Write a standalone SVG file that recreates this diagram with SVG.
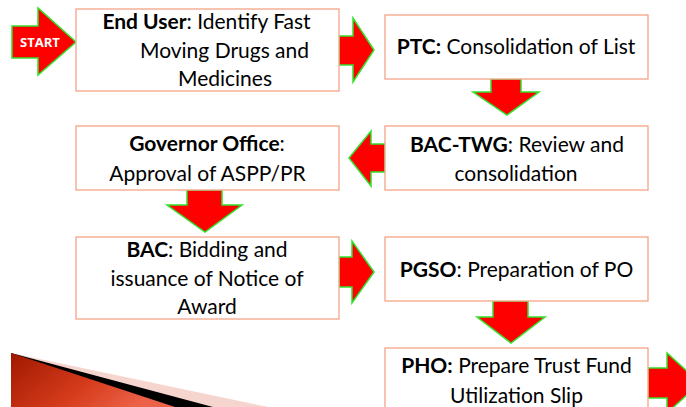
<svg xmlns="http://www.w3.org/2000/svg" width="686" height="407" viewBox="0 0 686 407">
<defs>
<linearGradient id="redg" x1="0" y1="0" x2="1" y2="0.4">
<stop offset="0" stop-color="#A01800"/>
<stop offset="0.6" stop-color="#D63C1C"/>
<stop offset="1" stop-color="#EC6248"/>
</linearGradient>
<style>
.box{fill:#FFFFFF;stroke:#F4A388;stroke-width:1.3}
.arr{fill:#FF0000;stroke:#33E02B;stroke-width:1.5;stroke-linejoin:miter}
.t{font-family:Lato,"Liberation Sans",sans-serif;font-size:21px;fill:#000;text-anchor:middle}
.b{font-weight:bold}
.st{font-family:"Open Sans","Liberation Sans",sans-serif;font-size:13px;font-weight:bold;fill:#FFF;text-anchor:middle}
</style>
</defs>
<g id="decor">
<polygon points="11,353 268,407 11,407" fill="#F6D5CE"/>
<polygon points="11,353 213,407 11,407" fill="#000"/>
<polygon points="11,353 175,407 11,407" fill="url(#redg)"/>
</g>
<g id="connectors">
<polygon class="arr" points="12,26 38,26 38,8 76,42 38,75 38,58 12,58"/>
<polygon class="arr" points="339,36 353,36 353,18 374,50 353,82 353,65 339,65"/>
<polygon class="arr" points="491,79 521,79 521,92 539,92 507,115 473,92 491,92"/>
<polygon class="arr" points="385,144 371,144 371,131 349,158 371,186 371,172 385,172"/>
<polygon class="arr" points="187,190 222,190 222,205 242,205 205,232 167,205 187,205"/>
<polygon class="arr" points="339,257 352,257 352,241 374,272 352,303 352,287 339,287"/>
<polygon class="arr" points="493,301 528,301 528,317 545,317 511,343 477,317 493,317"/>
<polygon class="arr" points="648,368 667,368 667,353 700,383 667,413 667,398 648,398"/>
<text class="st" x="40" y="47">START</text>
</g>
<g id="n1">
<rect class="box" x="76" y="9" width="263" height="82"/>
<text class="t" x="206.5" y="29"><tspan class="b">End User</tspan>: Identify Fast</text>
<text class="t" x="224.5" y="58">Moving Drugs and</text>
<text class="t" x="225" y="86">Medicines</text>
</g>
<g id="n2">
<rect class="box" x="385" y="15" width="263" height="64"/>
<text class="t" x="516" y="54"><tspan class="b">PTC:</tspan> Consolidation of List</text>
</g>
<g id="n3">
<rect class="box" x="385" y="126" width="263" height="64"/>
<text class="t" x="517" y="152"><tspan class="b">BAC-TWG</tspan>: Review and</text>
<text class="t" x="516" y="181">consolidation</text>
</g>
<g id="n4">
<rect class="box" x="76" y="126" width="263" height="64"/>
<text class="t" x="207" y="151"><tspan class="b">Governor Office</tspan>:</text>
<text class="t" x="207.5" y="181">Approval of ASPP/PR</text>
</g>
<g id="n5">
<rect class="box" x="76" y="237" width="263" height="82"/>
<text class="t" x="207" y="257"><tspan class="b">BAC</tspan>: Bidding and</text>
<text class="t" x="207" y="286">issuance of Notice of</text>
<text class="t" x="207" y="314">Award</text>
</g>
<g id="n6">
<rect class="box" x="385" y="237" width="263" height="64"/>
<text class="t" x="516.5" y="277"><tspan class="b">PGSO</tspan>: Preparation of PO</text>
</g>
<g id="n7">
<rect class="box" x="385" y="348" width="263" height="70"/>
<text class="t" x="516.5" y="373"><tspan class="b">PHO:</tspan> Prepare Trust Fund</text>
<text class="t" x="516.5" y="403">Utilization Slip</text>
</g>
</svg>
